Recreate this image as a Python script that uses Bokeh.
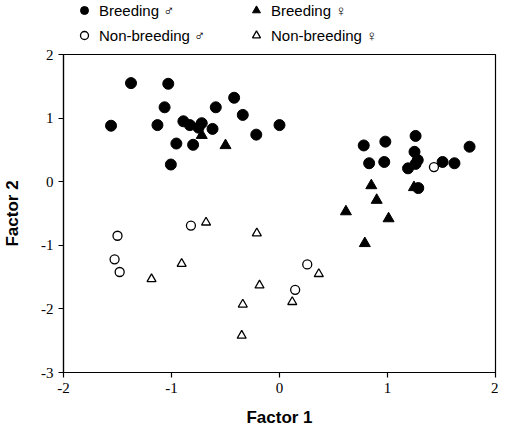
from bokeh.plotting import figure
from bokeh.layouts import column
from bokeh.models import Range1d, FixedTicker, Legend, LegendItem
from bokeh.embed import file_html
from bokeh.resources import INLINE

# ---- data ----
bm_x = [-1.56, -1.375, -1.03, -1.064, -1.13, -0.89, -0.83, -0.72, -0.75, -0.62, -0.59, -0.42, -0.34, -0.215, 0.0,
        -0.955, -0.80, -1.006, 1.26, 0.78, 0.98, 1.76, 1.25, 1.28, 1.26, 1.19, 0.83, 0.97, 1.51, 1.62, 1.285]
bm_y = [0.88, 1.55, 1.54, 1.17, 0.89, 0.95, 0.89, 0.92, 0.85, 0.83, 1.17, 1.32, 1.05, 0.74, 0.89,
        0.60, 0.58, 0.27, 0.72, 0.57, 0.63, 0.55, 0.47, 0.34, 0.28, 0.21, 0.29, 0.31, 0.31, 0.29, -0.10]

bf_x = [-0.72, -0.50, 1.245, 0.85, 0.90, 0.615, 1.01, 0.79]
bf_y = [0.73, 0.57, -0.09, -0.06, -0.29, -0.47, -0.58, -0.97]

nm_x = [-1.50, -1.527, -1.48, -0.82, 0.257, 0.145, 1.43]
nm_y = [-0.85, -1.22, -1.42, -0.69, -1.30, -1.70, 0.23]

nf_x = [-0.68, -0.21, -0.906, -1.185, -0.185, -0.34, 0.118, 0.364, -0.35]
nf_y = [-0.64, -0.81, -1.29, -1.53, -1.63, -1.93, -1.89, -1.45, -2.42]

x_ticks = [-2, -1, 0, 1, 2]
x_tick_labels = ["-2", "-1", "0", "1", "2"]
y_ticks = [-3, -2, -1, 0, 1, 2]
y_tick_labels = ["-3", "-2", "-1", "0", "1", "2"]

labels = ["Breeding \u2642", "Non-breeding \u2642", "Breeding \u2640", "Non-breeding \u2640"]

styles = [dict(marker="circle", size=11, fill_color="black", line_color="black"),
          dict(marker="circle", size=9, fill_color="white", line_color="black", line_width=1.3),
          dict(marker="triangle", size=11, fill_color="black", line_color="black"),
          dict(marker="triangle", size=9, fill_color="white", line_color="black", line_width=1.3)]
series = [(bm_x, bm_y), (nm_x, nm_y), (bf_x, bf_y), (nf_x, nf_y)]

LEG_H = 45

# ---- main plot ----
FRAME_W, FRAME_H = 432, 318
p = figure(width=494, height=428 - LEG_H, frame_width=FRAME_W, frame_height=FRAME_H,
           output_backend="svg", toolbar_location=None,
           x_range=Range1d(-2, 2), y_range=Range1d(-3, 2),
           min_border_left=59, min_border_right=3, min_border_top=9, min_border_bottom=56)
p.grid.visible = False
p.outline_line_color = "black"
p.outline_line_width = 1.2
p.background_fill_color = "white"

for (xs, ys), st in zip(series, styles):
    p.scatter(xs, ys, **st)

for ax, ticks, tl in ((p.xaxis[0], x_ticks, x_tick_labels), (p.yaxis[0], y_ticks, y_tick_labels)):
    ax.ticker = FixedTicker(ticks=ticks)
    ax.major_label_overrides = {t: s for t, s in zip(ticks, tl)}
    ax.axis_line_color = "black"
    ax.axis_line_width = 1.2
    ax.major_tick_out = 5
    ax.major_tick_in = 0
    ax.major_tick_line_width = 1.2
    ax.minor_tick_line_color = None
    ax.major_label_text_font = "Liberation Serif"
    ax.major_label_text_font_size = "15px"
    ax.major_label_text_color = "black"
    ax.major_label_standoff = 5
    ax.axis_label_text_font = "Liberation Sans"
    ax.axis_label_text_font_style = "bold"
    ax.axis_label_text_font_size = "17px"
    ax.axis_label_text_color = "black"

p.xaxis.axis_label = "Factor 1"
p.yaxis.axis_label = "Factor 2"
p.xaxis.axis_label_standoff = 12
p.yaxis.axis_label_standoff = 16
p.yaxis.major_label_orientation = "horizontal"

# ---- legend strip above the plot (series drawn outside its visible range) ----
lg = figure(width=494, height=LEG_H, output_backend="svg", toolbar_location=None,
            x_range=Range1d(10, 11), y_range=Range1d(10, 11),
            x_axis_location=None, y_axis_location=None,
            min_border_left=0, min_border_right=0, min_border_top=0, min_border_bottom=0)
lg.grid.visible = False
lg.outline_line_color = None
items = []
for lab, (xs, ys), st in zip(labels, series, styles):
    r = lg.scatter(xs, ys, **st)
    items.append(LegendItem(label=lab, renderers=[r]))
legend = Legend(items=items, location=(11, 0), nrows=2,
                border_line_color=None, background_fill_alpha=0,
                margin=0, padding=0, spacing=5,
                glyph_width=20, glyph_height=20, label_height=20, label_width=142,
                label_standoff=5, label_text_font="Liberation Sans", label_text_font_size="15px",
                label_text_color="black")
lg.add_layout(legend, "center")

layout = column(lg, p, spacing=0)
open("out.html", "w").write(file_html(layout, INLINE))
